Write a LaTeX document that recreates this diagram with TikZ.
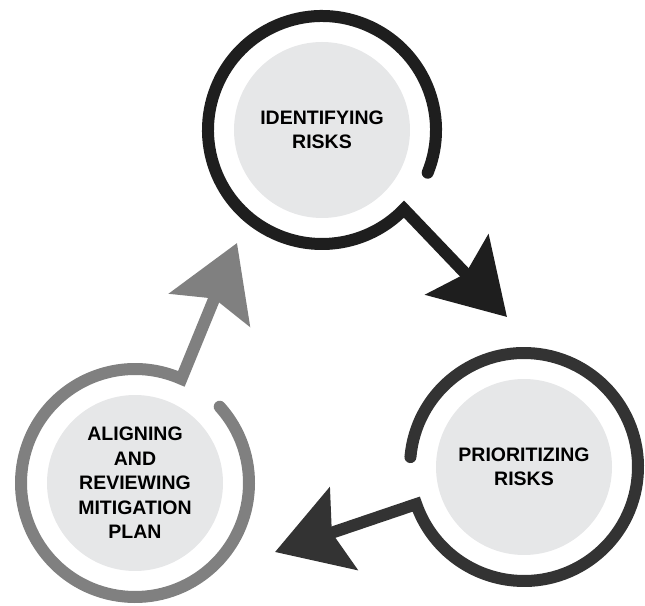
\documentclass[tikz,border=0pt]{standalone}
\usepackage{fontspec}
\setmainfont{Liberation Sans}
\usetikzlibrary{arrows.meta}
\definecolor{identcol}{HTML}{1E1E1E}
\definecolor{priorcol}{HTML}{333333}
\definecolor{aligncol}{HTML}{808080}
\definecolor{discgray}{HTML}{E6E7E8}
\begin{document}
\begin{tikzpicture}[x=1pt,y=1pt,
    disc/.style={circle, fill=discgray, minimum size=176pt, inner sep=0pt,
      align=center, text=black, font=\fontsize{19.5}{24.5}\selectfont\bfseries},
    ring/.style={line width=12pt, line cap=round, line join=miter,
      -{Stealth[length=72pt, width=86pt, inset=12pt]}}]
  \useasboundingbox (0,0) rectangle (645,605);
  \node[disc] (ident) at (322,475) {IDENTIFYING\\RISKS};
  \node[disc] (prior) at (524,138) {PRIORITIZING\\RISKS};
  \node[disc] (align) at (135,122) {ALIGNING\\AND\\REVIEWING\\MITIGATION\\PLAN};
  \coordinate (identtip) at (507,288);
  \coordinate (priortip) at (275,53);
  \coordinate (aligntip) at (237,362);
  \begin{scope}[ring]
    \draw[identcol] (ident.center) ++(-22:114)
      arc[start angle=-22, end angle=316, radius=114] -- (identtip);
    \draw[priorcol] (prior.center) ++(175:114)
      arc[start angle=175, end angle=-161, radius=114] -- (priortip);
    \draw[aligncol] (align.center) ++(42:114)
      arc[start angle=42, end angle=-294, radius=114] -- (aligntip);
  \end{scope}
\end{tikzpicture}
\end{document}
